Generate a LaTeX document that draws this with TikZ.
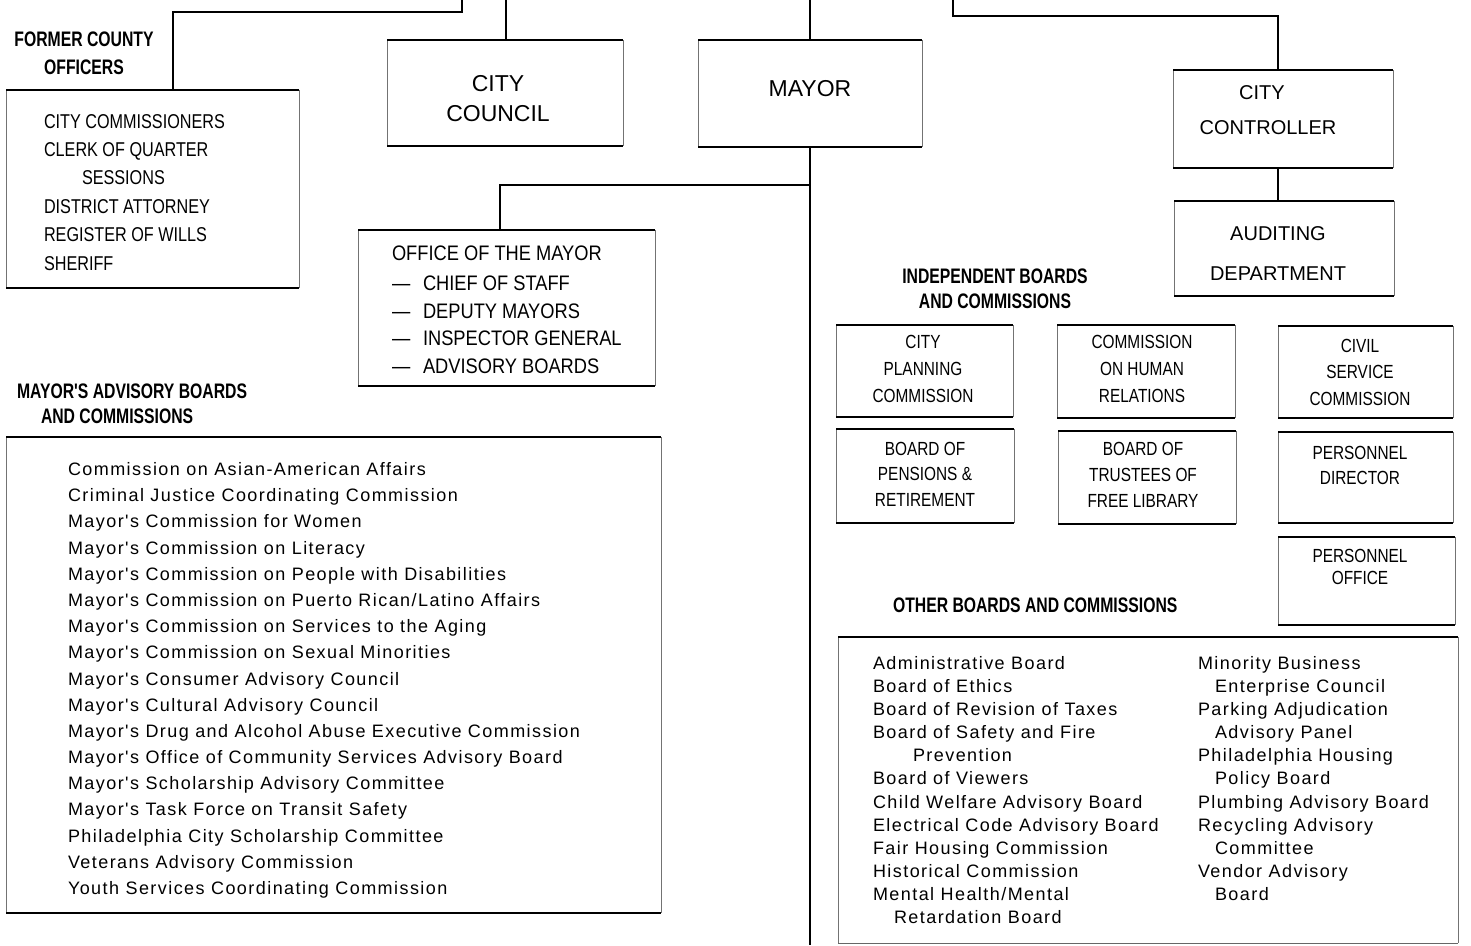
\documentclass[tikz,border=0pt]{standalone}
\usepackage{fontspec}
\setmainfont{Liberation Sans}
\newfontfamily\bodyf[LetterSpace=8]{Liberation Sans}
\newfontfamily\capf[FakeStretch=0.81]{Liberation Sans}
\newfontfamily\capof[FakeStretch=0.87]{Liberation Sans}
\newfontfamily\hdrf[FakeStretch=0.75]{Liberation Sans Bold}
\usetikzlibrary{fit}
\tikzset{
  rim/.style={line width=2.4pt, black},
  thinrim/.style={line width=0.8pt, black!60},
  side/.style={line width=0.7pt, black!55},
  conn/.style={line width=1.2pt, black},
  frame/.style={inner sep=0pt, outer sep=0pt},
  txt/.style={inner sep=0pt, outer sep=0pt, text=black},
  body/.style={txt, anchor=base west, font=\bodyf\fontsize{18}{20}\selectfont},
  capl/.style={txt, anchor=base west, font=\capf\fontsize{20}{22}\selectfont},
  capo/.style={txt, anchor=base west, font=\capof\fontsize{21}{23}\selectfont},
  capc/.style={txt, anchor=base, font=\capf\fontsize{19}{21}\selectfont},
  bigc/.style={txt, anchor=base, font=\fontsize{23}{26}\selectfont},
  midc/.style={txt, anchor=base, font=\fontsize{20}{24}\selectfont},
  hdrl/.style={txt, anchor=base west, font=\hdrf\fontsize{21}{24}\selectfont},
  hdrc/.style={txt, anchor=base, font=\hdrf\fontsize{21}{24}\selectfont},
}
% frame: name, x1, y1, x2, y2, bottom style
\newcommand\frm[6]{%
  \coordinate (#1-a) at (#2,#3);
  \coordinate (#1-b) at (#4,#5);
  \node[frame, fit=(#1-a)(#1-b)] (#1) {};
  \draw[side] (#1.north west) -- (#1.south west);
  \draw[side] (#1.north east) -- (#1.south east);
  \draw[rim] (#1.north west) -- (#1.north east);
  \draw[#6] (#1.south west) -- (#1.south east);
}
% lines of text: name, x, first baseline, pitch, style, list
\newcommand\txtlines[6]{%
  \foreach \itemtext [count=\ii] in {#6} {
    \node[#5] (#1-\ii) at (#2, {#3+(\ii-1)*#4}) {\itemtext};
  }
}
\begin{document}
\begin{tikzpicture}[x=1pt,y=-1pt]
\fill[white] (0,0) rectangle (1471,945);
\useasboundingbox (0,0) rectangle (1471,945);

% ---------- frames ----------
\frm{fco}{6}{90}{299}{288}{rim}
\frm{council}{387}{40}{623}{146}{rim}
\frm{mayor}{698}{40}{922}{147}{rim}
\frm{ctrl}{1173}{70}{1393}{168}{rim}
\frm{audit}{1174}{201}{1394}{296}{rim}
\frm{office}{358}{230}{655}{386}{rim}
\frm{adv}{6}{437}{661}{913}{rim}
\frm{plan}{836}{325}{1013}{417}{rim}
\frm{pens}{836}{429}{1014}{523}{rim}
\frm{human}{1057}{325}{1235}{418}{rim}
\frm{trust}{1058}{431}{1236}{524}{rim}
\frm{civil}{1278}{326}{1453}{418}{rim}
\frm{pdir}{1278}{432}{1453}{523}{rim}
\frm{poff}{1278}{537}{1455}{625}{rim}
\frm{other}{838}{637}{1458}{943}{thinrim}

% ---------- connectors ----------
\coordinate (tA) at (462,0);
\coordinate (tB) at (506,0);
\coordinate (tC) at (810,0);
\coordinate (tD) at (953,0);
\coordinate (bC) at (810,945);
\coordinate (mj) at (810,185);
\draw[conn] (tA) -- ++(0,12) -| ([xshift=20.5pt]fco.north);
\draw[conn] (tB) -- (tB |- council.north);
\draw[conn] (tC) -- (mayor.north);
\draw[conn] (tD) -- ++(0,16) -| ([xshift=-5pt]ctrl.north);
\draw[conn] ([xshift=-5pt]ctrl.south) -- ([xshift=-6pt]audit.north);
\draw[conn] (mayor.south) -- (bC);
\draw[conn] (mj) -| ([xshift=-6.5pt]office.north);

% ---------- headers ----------
\txtlines{fcoh}{84}{46.5}{28}{hdrc}{FORMER COUNTY, OFFICERS}
\node[hdrl] (advh1) at (17,398.5) {MAYOR'S ADVISORY BOARDS};
\node[hdrl] (advh2) at (41,423.5) {AND COMMISSIONS};
\txtlines{indh}{995}{283.5}{25}{hdrc}{INDEPENDENT BOARDS, AND COMMISSIONS}
\node[hdrl] (othh) at (893,612.5) {OTHER BOARDS AND COMMISSIONS};

% ---------- box texts ----------
\txtlines{fcot}{44}{128}{28.4}{capl}{CITY COMMISSIONERS, CLERK OF QUARTER, {\hspace*{38pt}SESSIONS}, DISTRICT ATTORNEY, REGISTER OF WILLS, SHERIFF}
\txtlines{councilt}{498}{91}{30}{bigc}{CITY, COUNCIL}
\node[bigc] (mayort) at (810,96.5) {MAYOR};
\node[midc] (ctrlt1) at (1262,99) {CITY};
\node[midc] (ctrlt2) at (1268,134) {CONTROLLER};
\txtlines{auditt}{1278}{240}{40}{midc}{AUDITING, DEPARTMENT}
\node[capo] (officet) at (392,260.5) {OFFICE OF THE MAYOR};
\txtlines{officed}{392}{290.5}{27.7}{capo}{—, —, —, —}
\txtlines{officel}{423}{290.5}{27.7}{capo}{CHIEF OF STAFF, DEPUTY MAYORS, INSPECTOR GENERAL, ADVISORY BOARDS}

\txtlines{plant}{923}{348}{27}{capc}{CITY, PLANNING, COMMISSION}
\txtlines{penst}{925}{455}{25.5}{capc}{BOARD OF, PENSIONS \&, RETIREMENT}
\txtlines{humant}{1142}{348}{27}{capc}{COMMISSION, ON HUMAN, RELATIONS}
\txtlines{trustt}{1143}{455}{26}{capc}{BOARD OF, TRUSTEES OF, FREE LIBRARY}
\txtlines{civilt}{1360}{352}{26.5}{capc}{CIVIL, SERVICE, COMMISSION}
\txtlines{pdirt}{1360}{459}{25}{capc}{PERSONNEL, DIRECTOR}
\txtlines{pofft}{1360}{562}{22}{capc}{PERSONNEL, OFFICE}

% ---------- lists ----------
\txtlines{advt}{68}{475.5}{26.19}{body}{%
Commission on Asian-American Affairs,
Criminal Justice Coordinating Commission,
Mayor's Commission for Women,
Mayor's Commission on Literacy,
Mayor's Commission on People with Disabilities,
Mayor's Commission on Puerto Rican/Latino Affairs,
Mayor's Commission on Services to the Aging,
Mayor's Commission on Sexual Minorities,
Mayor's Consumer Advisory Council,
Mayor's Cultural Advisory Council,
Mayor's Drug and Alcohol Abuse Executive Commission,
Mayor's Office of Community Services Advisory Board,
Mayor's Scholarship Advisory Committee,
Mayor's Task Force on Transit Safety,
Philadelphia City Scholarship Committee,
Veterans Advisory Commission,
Youth Services Coordinating Commission}

\txtlines{oth1}{873}{669}{23.18}{body}{%
Administrative Board,
Board of Ethics,
Board of Revision of Taxes,
Board of Safety and Fire,
{\hspace*{40pt}Prevention},
Board of Viewers,
Child Welfare Advisory Board,
Electrical Code Advisory Board,
Fair Housing Commission,
Historical Commission,
Mental Health/Mental,
{\hspace*{21pt}Retardation Board}}

\txtlines{oth2}{1198}{669}{23.18}{body}{%
Minority Business,
{\hspace*{17pt}Enterprise Council},
Parking Adjudication,
{\hspace*{17pt}Advisory Panel},
Philadelphia Housing,
{\hspace*{17pt}Policy Board},
Plumbing Advisory Board,
Recycling Advisory,
{\hspace*{17pt}Committee},
Vendor Advisory,
{\hspace*{17pt}Board}}
\end{tikzpicture}
\end{document}
